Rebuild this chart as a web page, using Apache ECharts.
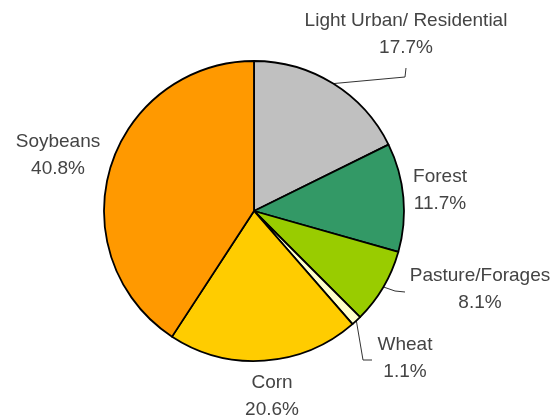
<!DOCTYPE html>
<html>
<head>
<meta charset="utf-8">
<script src="https://cdn.jsdelivr.net/npm/echarts@6/dist/echarts.min.js"></script>
<style>
  html, body { margin: 0; padding: 0; background: #fff; }
  #main { width: 556px; height: 420px; }
</style>
</head>
<body>
<div id="main"></div>
<script>
// land use shares, clockwise from 12 o'clock
const categories = ['Light Urban/ Residential', 'Forest', 'Pasture/Forages', 'Wheat', 'Corn', 'Soybeans'];
const shares = [17.7, 11.7, 8.1, 1.1, 20.6, 40.8];

const colors = ['#c0c0c0', '#339966', '#99cc00', '#ffffcc', '#ffcc00', '#ff9900'];
// label centres (px) and leader line bends, null = no leader line
const labelPos = [[406, 34], [440, 190], [480, 289], [405, 358], [272, 396], [58, 155]];
const leaderBends = [
  [[405, 77], [406, 68]],
  null,
  [[395, 291], [405, 292]],
  [[363, 360], [372, 360]],
  null,
  null
];

const chart = echarts.init(document.getElementById('main'));

chart.setOption({
  animation: false,
  backgroundColor: '#fff',
  series: [{
    type: 'pie',
    center: [254, 211],
    radius: 150,
    startAngle: 90,
    clockwise: true,
    avoidLabelOverlap: false,
    itemStyle: {
      borderColor: '#000',
      borderWidth: 1.8
    },
    label: {
      show: true,
      position: 'outside',
      fontFamily: 'Liberation Sans, Arial, sans-serif',
      fontSize: 19,
      lineHeight: 27,
      color: '#444',
      align: 'center',
      formatter: p => p.name + '\n' + p.value.toFixed(1) + '%'
    },
    labelLine: {
      show: true,
      lineStyle: { color: '#333', width: 1 }
    },
    labelLayout: params => {
      const i = params.dataIndex;
      const out = {
        x: labelPos[i][0],
        y: labelPos[i][1],
        align: 'center',
        verticalAlign: 'middle'
      };
      if (leaderBends[i] && params.labelLinePoints) {
        out.labelLinePoints = [params.labelLinePoints[0]].concat(leaderBends[i]);
      }
      return out;
    },
    data: categories.map((name, i) => ({
      name: name,
      value: shares[i],
      itemStyle: { color: colors[i] },
      labelLine: { show: !!leaderBends[i] }
    }))
  }]
});
</script>
</body>
</html>
